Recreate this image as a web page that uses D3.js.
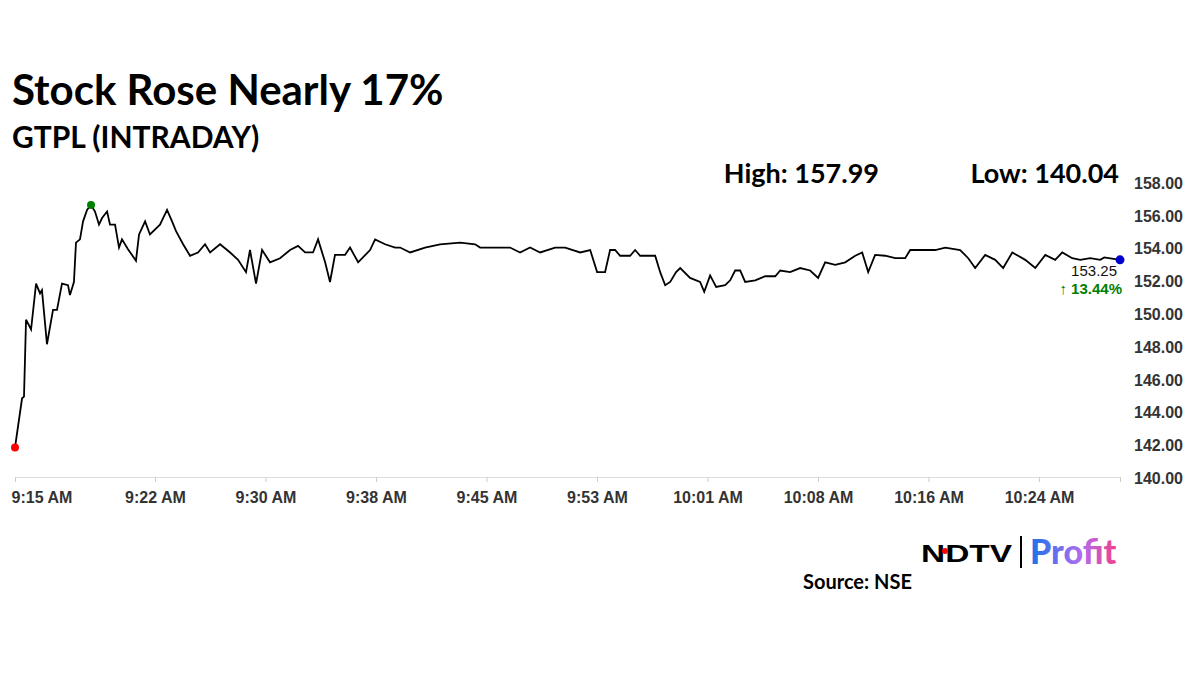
<!DOCTYPE html>
<html>
<head>
<meta charset="utf-8">
<script src="https://cdn.jsdelivr.net/npm/d3@7"></script>
<style>
  body { margin: 0; background: #fff; }
  svg text { font-family: Lato, "Open Sans", sans-serif; }
</style>
</head>
<body>
<div id="chart"></div>
<script>
// minutes after 9:15 and price
const minutes = [0,0.48,0.61,0.75,1.09,1.43,1.7,1.83,2.17,2.58,2.85,3.19,3.6,3.73,4.0,4.14,4.41,4.62,4.89,5.16,5.43,5.7,5.91,6.25,6.45,6.79,7.06,7.26,7.67,8.21,8.42,8.83,9.16,9.84,10.32,10.66,10.93,11.41,11.88,12.42,12.9,13.24,13.92,14.6,15.14,15.68,15.95,16.36,16.77,17.31,17.99,18.67,19.21,19.69,20.23,20.57,21.05,21.38,21.72,22.4,22.74,23.29,24.1,24.44,25.12,25.8,26.14,26.82,27.83,28.85,30.21,31.23,31.57,32.25,33.6,34.28,34.96,35.64,36.66,37.34,38.36,39.04,39.51,40.05,40.39,40.73,41.07,41.75,42.09,42.43,43.45,43.79,44.13,44.47,44.87,45.15,45.82,46.5,46.78,47.18,47.59,48.2,48.54,48.88,49.22,49.56,50.24,50.92,51.6,51.94,52.61,53.29,53.97,54.51,54.99,55.67,56.35,57.03,57.5,57.91,58.38,59.06,59.74,60.42,60.76,61.44,62.46,63.14,64.15,64.7,65.17,65.85,66.53,67.07,67.69,68.57,69.25,69.93,70.6,71.08,71.76,72.3,72.98,73.66,73.93,75.0];
const prices = [141.8,144.8,144.9,149.6,149.0,151.8,151.2,151.4,148.1,150.2,150.2,151.8,151.7,151.1,151.9,154.3,154.5,155.6,156.3,156.6,156.2,155.4,155.8,156.2,155.4,155.4,154.0,154.5,153.9,153.2,154.8,155.6,154.8,155.4,156.3,155.6,155.0,154.2,153.5,153.7,154.2,153.7,154.2,153.7,153.25,152.5,153.85,151.8,153.85,153.1,153.35,153.85,154.1,153.7,153.7,154.5,153.1,151.9,153.55,153.55,154.0,153.1,153.85,154.5,154.2,154.0,154.0,153.7,154.0,154.2,154.3,154.2,154.0,154.0,154.0,153.7,154.0,153.7,154.0,154.0,153.7,153.85,152.5,152.5,153.85,153.85,153.5,153.5,153.85,153.5,153.5,152.5,151.7,151.9,152.5,152.75,152.15,151.9,151.3,152.3,151.6,151.7,152.0,152.6,152.6,151.9,152.0,152.25,152.25,152.6,152.5,152.75,152.6,152.15,153.1,152.95,153.1,153.5,153.7,152.5,153.55,153.5,153.35,153.35,153.85,153.85,153.85,154.0,153.85,153.35,152.75,153.55,153.25,152.75,153.7,153.25,152.75,153.55,153.25,153.7,153.35,153.25,153.35,153.25,153.4,153.25];
const yTicks = [140,142,144,146,148,150,152,154,156,158];
const xTickMins = [0,9.5,17,24.5,32,39.5,47,54.5,62,69.5,75];
const xTickLabels = ['9:15 AM','9:22 AM','9:30 AM','9:38 AM','9:45 AM','9:53 AM','10:01 AM','10:08 AM','10:16 AM','10:24 AM',''];
const highIdx = 19;

const svg = d3.select('#chart').append('svg')
  .attr('width', 1200).attr('height', 675);

const x = d3.scaleLinear().domain([0, 75]).range([15, 1120]);
const y = d3.scaleLinear().domain([140, 158]).range([477, 182]);

// titles
svg.append('text').attr('x', 12).attr('y', 105)
  .style('font-size', '42px').style('font-weight', 'bold').text('Stock Rose Nearly 17%');
svg.append('text').attr('x', 12).attr('y', 148)
  .style('font-size', '30px').style('font-weight', 'bold').text('GTPL (INTRADAY)');
svg.append('text').attr('x', 879).attr('y', 183).attr('text-anchor', 'end')
  .style('font-size', '27px').style('font-weight', 'bold').text('High: 157.99');
svg.append('text').attr('x', 1119).attr('y', 183).attr('text-anchor', 'end')
  .style('font-size', '27px').style('font-weight', 'bold').text('Low: 140.04');

// y axis labels
svg.append('g').attr('transform', 'translate(1131,0)')
  .call(d3.axisRight(y).tickValues(yTicks).tickFormat(d3.format('.2f')).tickSize(0))
  .call(g => g.select('.domain').remove())
  .selectAll('text')
  .style('font-family', '"Liberation Sans", Arial, sans-serif')
  .style('font-size', '16px').style('font-weight', 'bold').attr('fill', '#333').attr('dy', '0.4em');

// x axis
const xa = svg.append('g').attr('transform', 'translate(0,477)')
  .call(d3.axisBottom(x).tickValues(xTickMins).tickFormat((d, i) => xTickLabels[i]).tickSize(5));
xa.select('.domain').attr('stroke', '#ddd');
xa.selectAll('.tick line').attr('stroke', '#ccc');
xa.selectAll('text')
  .style('font-family', '"Liberation Sans", Arial, sans-serif')
  .style('font-size', '16px').style('font-weight', 'bold').attr('fill', '#333').attr('dy', '1.1em')
  .attr('text-anchor', (d, i) => i === 0 ? 'start' : 'middle')
  .attr('dx', (d, i) => i === 0 ? -4 : 0);

// line
const data = minutes.map((m, i) => ({ m, p: prices[i] }));
svg.append('path').datum(data)
  .attr('fill', 'none').attr('stroke', '#000').attr('stroke-width', 1.8)
  .attr('d', d3.line().x(d => x(d.m)).y(d => y(d.p)));

const last = data[data.length - 1];
svg.append('circle').attr('cx', x(data[0].m)).attr('cy', y(data[0].p)).attr('r', 4).attr('fill', 'red');
svg.append('circle').attr('cx', x(data[highIdx].m)).attr('cy', y(data[highIdx].p)).attr('r', 4).attr('fill', 'green');
svg.append('circle').attr('cx', x(last.m)).attr('cy', y(last.p)).attr('r', 4.5).attr('fill', '#0000cc');

svg.append('text').attr('x', 1117).attr('y', y(last.p) + 16).attr('text-anchor', 'end')
  .style('font-family', '"Liberation Sans", Arial, sans-serif')
  .style('font-size', '15px').attr('fill', '#111').text(last.p.toFixed(2));
svg.append('text').attr('x', 1122).attr('y', y(last.p) + 34).attr('text-anchor', 'end')
  .style('font-family', '"Liberation Sans", Arial, sans-serif')
  .style('font-size', '15px').style('font-weight', 'bold').attr('fill', 'green').text('↑ 13.44%');

// logo
const defs = svg.append('defs');
const grad = defs.append('linearGradient').attr('id', 'pg');
grad.append('stop').attr('offset', '0%').attr('stop-color', '#1a73e8');
grad.append('stop').attr('offset', '60%').attr('stop-color', '#b36bf0');
grad.append('stop').attr('offset', '100%').attr('stop-color', '#f0408a');
svg.append('text').attr('x', 921).attr('y', 562)
  .attr('textLength', 91).attr('lengthAdjust', 'spacingAndGlyphs')
  .style('font-family', '"Liberation Sans", Arial, sans-serif')
  .style('font-size', '24px').style('font-weight', '900').text('NDTV');
svg.append('circle').attr('cx', 945).attr('cy', 551).attr('r', 3).attr('fill', 'red');
svg.append('line').attr('x1', 1021).attr('x2', 1021).attr('y1', 536).attr('y2', 568)
  .attr('stroke', '#000').attr('stroke-width', 2);
svg.append('text').attr('x', 1030).attr('y', 564).attr('fill', 'url(#pg)')
  .style('font-size', '34px').style('font-weight', '900').text('Profit');
svg.append('text').attr('x', 803).attr('y', 589)
  .style('font-size', '20px').style('font-weight', 'bold').text('Source: NSE');
</script>
</body>
</html>
